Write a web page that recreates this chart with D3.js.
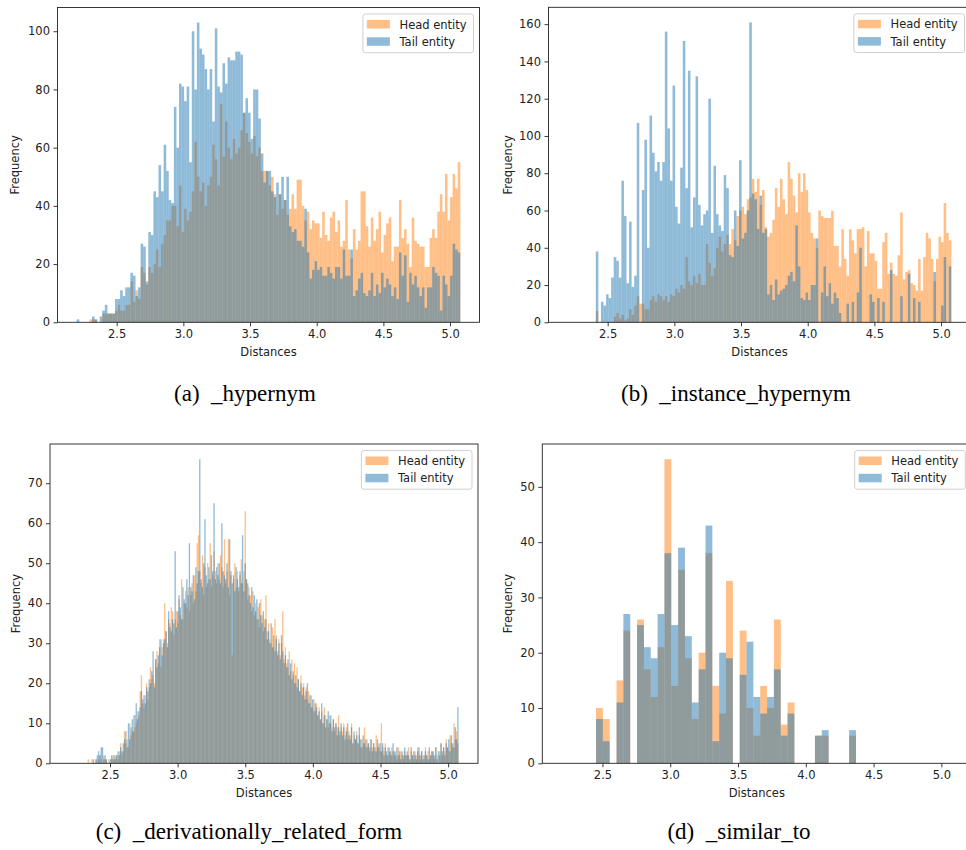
<!DOCTYPE html>
<html>
<head>
<meta charset="utf-8">
<script src="https://cdn.jsdelivr.net/npm/d3@7"></script>
<style>
  body { margin: 0; background: #fff; }
</style>
</head>
<body>
<div id="chart"></div>
<script>
// histogram bins span the same distance range in every panel
const binLo = 2.2;
const binHi = 5.077;
const xTicks = [2.5, 3.0, 3.5, 4.0, 4.5, 5.0];
const seriesNames = ["Head entity", "Tail entity"];

// (a) _hypernym, 150 bins
const hypernymHead = [
  0,0,0,0,0,1,1,1,0,0,
  3,3,3,3,3,4,6,4,4,6,
  6,14,7,11,8,19,17,13,19,17,
  20,25,19,27,30,35,35,40,40,33,
  47,31,39,35,38,45,62,50,45,48,
  40,47,50,61,56,47,75,57,69,60,
  56,63,58,60,66,72,65,62,58,64,
  57,60,52,52,52,47,50,44,37,44,
  39,42,37,39,44,39,49,49,40,35,
  38,32,35,34,34,29,38,30,28,36,
  38,31,35,26,28,42,25,22,32,25,
  28,45,45,33,26,36,28,32,38,24,
  30,34,36,21,26,26,42,29,32,27,
  19,36,28,27,26,26,19,19,29,32,
  29,38,44,38,51,35,43,51,46,55
];
const hypernymTail = [
  1,0,0,0,0,0,2,1,0,2,
  4,6,3,3,3,8,8,11,9,12,
  12,17,16,9,12,27,26,14,31,30,
  45,43,54,45,61,52,42,41,74,60,
  82,81,76,81,55,100,80,103,94,92,
  87,80,87,69,101,81,79,89,82,91,
  90,90,93,93,92,72,77,72,63,80,
  80,70,58,48,52,52,45,43,48,44,
  50,42,50,33,31,32,28,28,26,39,
  24,15,18,21,18,19,16,16,19,17,
  15,19,19,15,25,16,16,25,9,11,
  15,17,10,9,11,17,9,13,10,17,
  12,15,13,9,12,8,24,16,23,7,
  17,13,16,12,9,12,5,12,12,19,
  17,16,4,16,13,9,16,27,25,24
];

// (b) _instance_hypernym, 150 bins
const instanceHead = [
  0,0,0,0,0,0,0,0,0,0,
  0,6,0,0,0,0,0,0,3,5,
  2,4,1,2,7,4,9,14,10,10,
  7,7,12,14,11,15,14,12,14,11,
  15,14,18,16,20,18,35,22,20,25,
  21,26,20,20,42,32,25,29,40,46,
  38,42,47,42,50,44,57,60,62,58,
  66,67,77,70,77,63,71,51,46,48,
  55,72,62,77,66,58,86,77,68,59,
  80,70,80,71,59,48,45,40,60,57,
  56,56,56,60,41,41,30,50,34,25,
  50,44,37,50,50,51,30,49,37,37,
  33,18,18,43,48,26,32,26,25,36,
  59,23,27,28,21,20,17,34,17,35,
  48,45,34,22,34,46,43,64,48,44
];
const instanceTail = [
  0,0,0,0,0,0,0,0,0,0,
  0,38,0,11,9,15,13,24,35,33,
  24,76,57,21,54,19,25,107,0,71,
  98,40,111,91,81,86,76,86,156,104,
  76,127,62,53,83,151,72,135,51,67,
  132,63,52,58,60,120,48,84,58,52,
  49,79,72,36,35,60,41,87,45,48,
  60,161,69,66,50,68,48,50,15,20,
  12,23,15,17,18,20,25,27,22,52,
  30,13,12,16,12,20,20,45,0,16,
  30,14,21,10,16,13,5,0,0,10,
  0,11,0,16,40,0,0,0,15,11,
  0,13,0,11,0,0,28,0,0,0,
  14,0,0,26,0,13,0,11,0,0,
  0,0,0,27,0,0,9,35,0,30
];

// (c) _derivationally_related_form, 300 bins
const derivHead = [
  0,0,0,0,0,0,0,0,0,0,
  0,0,0,0,1,0,0,1,0,0,
  1,0,1,2,1,0,2,1,1,0,
  1,0,1,2,1,2,2,1,3,5,
  2,3,8,5,6,4,10,7,8,12,
  9,10,13,12,18,22,15,14,17,20,
  16,19,24,21,22,20,26,28,25,31,
  24,29,31,40,33,30,36,35,39,38,
  32,36,38,35,41,37,46,36,40,43,
  39,44,38,42,45,40,47,43,55,57,
  48,45,52,42,49,44,50,46,55,44,
  47,53,48,45,50,46,52,49,44,56,
  45,48,56,42,47,27,46,50,44,48,
  43,47,51,45,48,63,46,41,44,42,
  38,43,37,40,36,39,34,41,37,33,
  36,42,33,35,31,30,34,29,36,32,
  28,31,27,30,38,26,29,25,24,28,
  23,26,22,25,20,24,21,18,22,19,
  20,17,19,16,18,15,17,14,16,13,
  15,12,14,11,13,10,14,12,11,9,
  12,10,9,11,8,10,9,12,7,9,
  8,10,7,9,6,8,7,10,5,7,
  6,8,5,7,4,6,5,9,4,6,
  5,3,6,4,5,3,7,4,5,3,
  10,4,3,5,2,4,3,2,4,3,
  2,3,1,4,2,3,2,1,3,2,
  2,4,1,3,2,1,3,2,4,2,
  1,3,2,1,4,2,3,1,2,3,
  2,1,4,2,0,3,5,2,4,3,
  6,4,3,7,5,4,10,6,8,5
];
const derivTail = [
  0,0,0,0,0,0,0,0,0,0,
  0,0,0,0,0,0,0,0,1,0,
  1,2,3,2,4,4,1,2,1,0,
  0,1,2,1,2,1,2,3,2,4,
  3,5,6,8,4,10,6,9,11,8,
  12,15,11,13,14,18,16,17,15,19,
  18,21,20,23,28,19,26,24,27,29,
  31,27,30,31,33,29,38,34,33,36,
  35,53,34,38,42,39,36,44,41,40,
  46,42,55,44,43,47,41,49,45,48,
  76,46,44,50,61,47,45,49,46,52,
  48,65,46,49,47,50,45,60,48,47,
  46,50,44,56,48,45,47,43,49,46,
  44,48,45,57,43,50,46,45,42,40,
  44,39,42,38,41,36,40,37,35,38,
  34,36,31,33,30,35,29,32,28,31,
  27,30,26,32,28,25,27,24,26,22,
  25,21,23,20,22,19,21,18,20,17,
  19,16,18,20,15,17,14,16,13,15,
  14,12,13,11,15,10,12,9,11,13,
  10,12,8,11,9,10,7,9,8,10,
  7,9,6,8,10,7,6,9,5,8,
  6,7,5,9,6,4,7,5,6,4,
  5,4,6,3,5,4,3,6,4,5,
  3,5,2,4,3,2,4,3,2,5,
  3,2,4,2,3,1,3,2,4,2,
  3,2,1,4,2,3,2,1,3,4,
  2,3,1,2,3,2,1,4,2,3,
  3,2,4,1,3,2,5,3,4,2,
  5,4,6,3,7,5,4,9,6,14
];

// (d) _similar_to, 57 bins
const similarHead = [
  0,0,0,0,0,10,8,0,15,24,
  0,26,17,12,21,55,14,35,19,8,
  20,38,14,9,33,0,24,10,5,14,
  10,26,7,11,0,0,0,5,5,0,
  0,0,5,0,0,0,0,0,0,0,
  0,0,0,0,0,0,0
];
const similarTail = [
  0,0,0,0,0,8,4,0,11,27,
  0,25,21,19,27,38,25,39,23,11,
  17,43,4,20,19,0,16,22,12,9,
  12,17,5,9,0,0,0,5,6,0,
  0,0,6,0,0,0,0,0,0,0,
  0,0,0,0,0,0,0
];

const yTicksA = [0, 20, 40, 60, 80, 100];
const yTicksB = [0, 20, 40, 60, 80, 100, 120, 140, 160];
const yTicksC = [0, 10, 20, 30, 40, 50, 60, 70];
const yTicksD = [0, 10, 20, 30, 40, 50];

const headColor = "#ff7f0e";
const tailColor = "#1f77b4";
const font = "DejaVu Sans";

const panels = [
  { head: hypernymHead, tail: hypernymTail, yTicks: yTicksA,
    left: 57.5, top: 7.5, width: 422, height: 314.8, labelGap: 38.5,
    caption: "(a)  _hypernym", capX: 245, capY: 401 },
  { head: instanceHead, tail: instanceTail, yTicks: yTicksB,
    left: 548.5, top: 7.3, width: 422, height: 315, labelGap: 36.5,
    caption: "(b)  _instance_hypernym", capX: 736, capY: 401 },
  { head: derivHead, tail: derivTail, yTicks: yTicksC,
    left: 50, top: 444, width: 428, height: 319.3, labelGap: 30.5,
    caption: "(c)  _derivationally_related_form", capX: 249, capY: 839 },
  { head: similarHead, tail: similarTail, yTicks: yTicksD,
    left: 542.3, top: 444, width: 429, height: 319.3, labelGap: 30,
    caption: "(d)  _similar_to", capX: 739, capY: 839 }
];

const svg = d3.select("#chart")
  .append("svg")
    .attr("width", 966)
    .attr("height", 850)
    .style("background", "#fff");

panels.forEach(drawPanel);

function drawPanel(p) {
  const n = p.head.length;
  const step = (binHi - binLo) / n;
  const pad = (binHi - binLo) * 0.05;

  const x = d3.scaleLinear()
    .domain([binLo - pad, binHi + pad])
    .range([0, p.width]);
  const y = d3.scaleLinear()
    .domain([0, d3.max(p.head.concat(p.tail)) * 1.05])
    .range([p.height, 0]);

  const g = svg.append("g")
    .attr("transform", `translate(${p.left},${p.top})`);

  // head first, tail drawn over it (overlap turns grey)
  [[p.head, headColor], [p.tail, tailColor]].forEach(([vals, color]) => {
    const bars = vals.map((v, i) => ({ v, i })).filter(d => d.v > 0);
    g.append("g")
      .selectAll("rect")
      .data(bars)
      .join("rect")
        .attr("x", d => x(binLo + d.i * step))
        .attr("width", d => x(binLo + (d.i + 1) * step) - x(binLo + d.i * step))
        .attr("y", d => y(d.v))
        .attr("height", d => y(0) - y(d.v))
        .attr("fill", color)
        .attr("fill-opacity", 0.5);
  });

  const xAxis = g.append("g")
    .attr("transform", `translate(0,${p.height})`)
    .call(d3.axisBottom(x).tickValues(xTicks).tickFormat(d3.format(".1f"))
      .tickSize(4).tickPadding(3.5));
  const yAxis = g.append("g")
    .call(d3.axisLeft(y).tickValues(p.yTicks).tickSize(4).tickPadding(3.5));

  [xAxis, yAxis].forEach(ax => {
    ax.select(".domain").remove();
    ax.selectAll("line").attr("stroke", "#222").attr("stroke-width", 0.9);
    ax.selectAll("text")
      .attr("font-family", font)
      .attr("font-size", 11.5)
      .attr("fill", "#222");
  });

  g.append("rect")
    .attr("width", p.width)
    .attr("height", p.height)
    .attr("fill", "none")
    .attr("stroke", "#222")
    .attr("stroke-width", 0.9);

  g.append("text")
    .attr("x", p.width / 2)
    .attr("y", p.height + 34)
    .attr("text-anchor", "middle")
    .attr("font-family", font)
    .attr("font-size", 11.5)
    .attr("fill", "#222")
    .text("Distances");

  g.append("text")
    .attr("transform", `translate(${-p.labelGap},${p.height / 2}) rotate(-90)`)
    .attr("text-anchor", "middle")
    .attr("font-family", font)
    .attr("font-size", 11.5)
    .attr("fill", "#222")
    .text("Frequency");

  // legend, upper right
  const lw = 110.6, lh = 38.7;
  const legend = g.append("g")
    .attr("transform", `translate(${p.width - 6 - lw},6.5)`);
  legend.append("rect")
    .attr("width", lw)
    .attr("height", lh)
    .attr("rx", 2.5)
    .attr("fill", "#fff")
    .attr("fill-opacity", 0.8)
    .attr("stroke", "#d0d0d0")
    .attr("stroke-width", 1);
  [headColor, tailColor].forEach((color, k) => {
    legend.append("rect")
      .attr("x", 4)
      .attr("y", 6 + k * 17.3)
      .attr("width", 23)
      .attr("height", 8.5)
      .attr("fill", color)
      .attr("fill-opacity", 0.5);
    legend.append("text")
      .attr("x", 36.6)
      .attr("y", 14.6 + k * 17.3)
      .attr("font-family", font)
      .attr("font-size", 11.5)
      .attr("fill", "#222")
      .text(seriesNames[k]);
  });

  svg.append("text")
    .attr("x", p.capX)
    .attr("y", p.capY)
    .attr("text-anchor", "middle")
    .attr("font-family", "Liberation Serif")
    .attr("font-size", 23)
    .attr("fill", "#000")
    .style("white-space", "pre")
    .text(p.caption);
}
</script>
</body>
</html>
